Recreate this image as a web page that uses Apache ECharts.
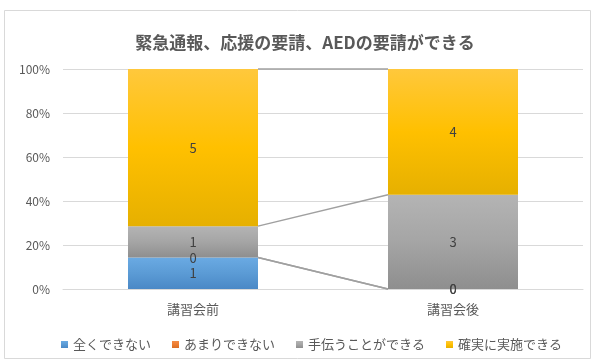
<!DOCTYPE html>
<html>
<head>
<meta charset="utf-8">
<script src="https://cdn.jsdelivr.net/npm/echarts@6/dist/echarts.min.js"></script>
<style>
  html, body { margin: 0; padding: 0; background: #ffffff; }
  #chart { width: 599px; height: 363px; }
</style>
</head>
<body>
<div id="chart"></div>
<script>
// Survey answers (counts of respondents) before / after the training session
const categories = ['講習会前', '講習会後'];
const seriesNames = ['全くできない', 'あまりできない', '手伝うことができる', '確実に実施できる'];
const notAtAll = [1, 0];
const hardly = [0, 0];
const withHelp = [1, 3];
const surely = [5, 4];
const yTicks = [0, 20, 40, 60, 80, 100];

const counts = [notAtAll, hardly, withHelp, surely];
const totals = categories.map((_, i) => counts.reduce((s, arr) => s + arr[i], 0));

const FONT = '"Noto Sans CJK JP", "Noto Sans", sans-serif';
const TEXT = '#595959';

// Excel-like vertical gradient fills
function grad(top, mid, bottom) {
  return new echarts.graphic.LinearGradient(0, 0, 0, 1, [
    { offset: 0, color: top },
    { offset: 0.5, color: mid },
    { offset: 1, color: bottom }
  ]);
}
const fills = [
  grad('#6aaae3', '#5b9bd5', '#4a88c6'),
  grad('#f38b45', '#ed7d31', '#d86c24'),
  grad('#b4b4b4', '#a5a5a5', '#8e8e8e'),
  grad('#ffc83c', '#ffc000', '#e6b000')
];
const legendColors = ['#5b9bd5', '#ed7d31', '#a5a5a5', '#ffc000'];

const barSeries = seriesNames.map((name, s) => ({
  name: name,
  type: 'bar',
  stack: 'total',
  barWidth: '50%',
  color: legendColors[s],
  itemStyle: { color: fills[s] },
  label: {
    show: true,
    position: 'inside',
    color: '#404040',
    fontFamily: FONT,
    fontSize: 13,
    formatter: (p) => String(counts[s][p.dataIndex])
  },
  data: counts[s].map((v, i) => v / totals[i] * 100)
}));

// Series lines joining the segment boundaries of the two stacked bars
const boundaries = [];
{
  let a = 0, b = 0;
  for (let s = 0; s < counts.length; s++) {
    a += counts[s][0] / totals[0] * 100;
    b += counts[s][1] / totals[1] * 100;
    boundaries.push([a, b]);
  }
}
const seriesLines = {
  type: 'custom',
  name: 'seriesLines',
  silent: true,
  z: 1,
  renderItem: (params, api) => {
    const bandW = api.size([1, 0])[0];
    const half = bandW * 0.25;
    const p0 = api.coord([0, api.value(0)]);
    const p1 = api.coord([1, api.value(1)]);
    return {
      type: 'line',
      shape: { x1: p0[0] + half, y1: p0[1], x2: p1[0] - half, y2: p1[1] },
      style: { stroke: '#a0a0a0', lineWidth: 1.5 }
    };
  },
  data: boundaries
};

const chart = echarts.init(document.getElementById('chart'), null, { renderer: 'canvas' });
chart.setOption({
  backgroundColor: '#ffffff',
  animation: false,
  textStyle: { fontFamily: FONT },
  title: {
    text: '緊急通報、応援の要請、AEDの要請ができる',
    left: 300,
    textAlign: 'center',
    top: 29,
    textStyle: { color: TEXT, fontSize: 17, fontWeight: 'bold', fontFamily: FONT }
  },
  graphic: [{
    type: 'rect',
    shape: { x: 4.5, y: 10.5, width: 586, height: 348 },
    style: { fill: 'none', stroke: '#d9d9d9', lineWidth: 1 },
    z: -1
  }],
  legend: {
    data: seriesNames,
    left: 56,
    top: 333,
    itemWidth: 7,
    itemHeight: 7,
    itemGap: 21,
    icon: 'rect',
    textStyle: { color: TEXT, fontSize: 13, fontFamily: FONT }
  },
  grid: { left: 63, right: 16, top: 69, bottom: 74 },
  xAxis: {
    type: 'category',
    data: categories,
    axisLine: { show: true, lineStyle: { color: '#d9d9d9' } },
    axisTick: { show: false },
    axisLabel: { color: TEXT, fontSize: 13, fontFamily: FONT, margin: 14 }
  },
  yAxis: {
    type: 'value',
    min: yTicks[0],
    max: yTicks[yTicks.length - 1],
    interval: yTicks[1] - yTicks[0],
    axisLine: { show: false },
    axisTick: { show: false },
    splitLine: { lineStyle: { color: '#d9d9d9' } },
    axisLabel: { color: TEXT, fontSize: 12, fontFamily: FONT, margin: 13, formatter: '{value}%' }
  },
  series: [seriesLines, ...barSeries]
});
</script>
</body>
</html>
